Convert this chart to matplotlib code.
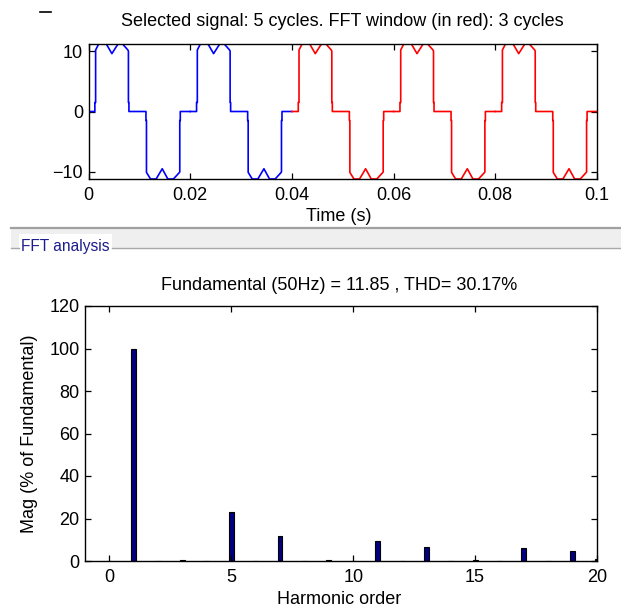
import numpy as np
import matplotlib
matplotlib.use("Agg")
import matplotlib.pyplot as plt
from matplotlib.lines import Line2D
from matplotlib.patches import Rectangle

plt.rcParams['font.family'] = ['Liberation Sans', 'DejaVu Sans']

# ---------------- data ----------------
# one period (ms, value) of the signal
cycle_t_ms = [0, 1.25, 1.25, 1.4, 1.4, 2.0, 3.5, 4.6, 5.8, 6.7, 7.75, 7.85, 7.85, 7.95, 7.95,
              11.3, 11.3, 11.4, 11.4, 12.2, 13.3, 14.5, 15.6, 16.7, 17.9, 17.95, 17.95, 18.05, 18.05, 20.0]
cycle_v = [0, 0, 1.5, 1.5, 10.2, 11.2, 11.2, 9.6, 11.2, 11.2, 10.2, 10.0, 1.5, 1.5, 0,
           0, -1.5, -1.5, -10.1, -11.2, -11.2, -9.5, -11.2, -11.2, -10.1, -10.0, -1.5, -1.5, 0, 0]
cycle_starts = [0.0, 0.02, 0.04, 0.06, 0.08]
cycle_colors = ['blue', 'blue', 'red', 'red', 'red']

harmonic_order = list(range(0, 21))
harmonic_mag = [0, 100, 0, 0.6, 0, 23.1, 0, 11.9, 0, 0.6, 0, 9.4, 0, 6.8, 0, 0.4, 0, 6.2, 0, 4.8, 1.0]

top_title = "Selected signal: 5 cycles. FFT window (in red): 3 cycles"
bottom_title = "Fundamental (50Hz) = 11.85 , THD= 30.17%"

W, H = 621, 608
fig = plt.figure(figsize=(W / 100, H / 100), dpi=100)
fig.patch.set_facecolor('white')

def fx(px):
    return px / W

def fy(py):
    return 1 - py / H

FS = 13

def style_axes(ax):
    for s in ax.spines.values():
        s.set_linewidth(1.0)
        s.set_color('black')
    ax.tick_params(direction='in', length=4, width=0.9, top=True, right=True,
                   labelsize=FS, colors='black', pad=4)
    ax.tick_params(axis='x', pad=6)

# ---------------- top axes ----------------
ax1 = fig.add_axes([fx(88.5), fy(179), fx(597) - fx(88.5), fy(44) - fy(179)])
for start, col in zip(cycle_starts, cycle_colors):
    t = start + np.array(cycle_t_ms) / 1000.0
    ax1.plot(t, cycle_v, color=col, lw=1.2)
ax1.set_xlim(0, 0.1)
ax1.set_ylim(-11.2, 11.2)
ax1.set_xticks([0, 0.02, 0.04, 0.06, 0.08, 0.1])
ax1.set_xticklabels(['0', '0.02', '0.04', '0.06', '0.08', '0.1'])
ax1.set_yticks([-10, 0, 10])
style_axes(ax1)
fig.text(fx(342), fy(21), top_title, ha='center', va='center', fontsize=FS)
fig.text(fx(339), fy(217), "Time (s)", ha='center', va='center', fontsize=FS)

# small dash in the corner
fig.add_artist(Line2D([fx(40), fx(51)], [fy(12), fy(12)], color='black', lw=1.2))

# ---------------- panel separator ----------------
fig.add_artist(Rectangle((fx(11), fy(247.5)), fx(621) - fx(11), fy(227.5) - fy(247.5),
                         facecolor='#efefef', edgecolor='none', transform=fig.transFigure))
fig.add_artist(Line2D([fx(11), fx(621)], [fy(227.5), fy(227.5)], color='#a0a0a0', lw=1.6))
fig.add_artist(Line2D([fx(11), fx(19)], [fy(247.5), fy(247.5)], color='#a8a8a8', lw=1.0))
fig.add_artist(Line2D([fx(112), fx(621)], [fy(247.5), fy(247.5)], color='#a8a8a8', lw=1.0))
fig.add_artist(Rectangle((fx(19), fy(257)), fx(112) - fx(19), fy(234) - fy(257),
                         facecolor='white', edgecolor='none', transform=fig.transFigure))
fig.text(fx(21), fy(246), "FFT analysis", ha='left', va='center', fontsize=11.2, color='#1c1c8c')

# ---------------- bottom axes ----------------
ax2 = fig.add_axes([fx(85), fy(561), fx(597) - fx(85), fy(306) - fy(561)])
ax2.bar(harmonic_order, harmonic_mag, width=0.2, color='#000080', edgecolor='black', linewidth=0.8)
ax2.set_xlim(-1, 20)
ax2.set_ylim(0, 120)
ax2.set_xticks([0, 5, 10, 15, 20])
ax2.set_yticks([0, 20, 40, 60, 80, 100, 120])
style_axes(ax2)
fig.text(fx(339), fy(286), bottom_title, ha='center', va='center', fontsize=FS)
fig.text(fx(339), fy(600), "Harmonic order", ha='center', va='center', fontsize=FS)
fig.text(fx(30), fy(434), "Mag (% of Fundamental)", ha='center', va='center', fontsize=FS,
         rotation=90)

fig.savefig('out.png', dpi=100)
